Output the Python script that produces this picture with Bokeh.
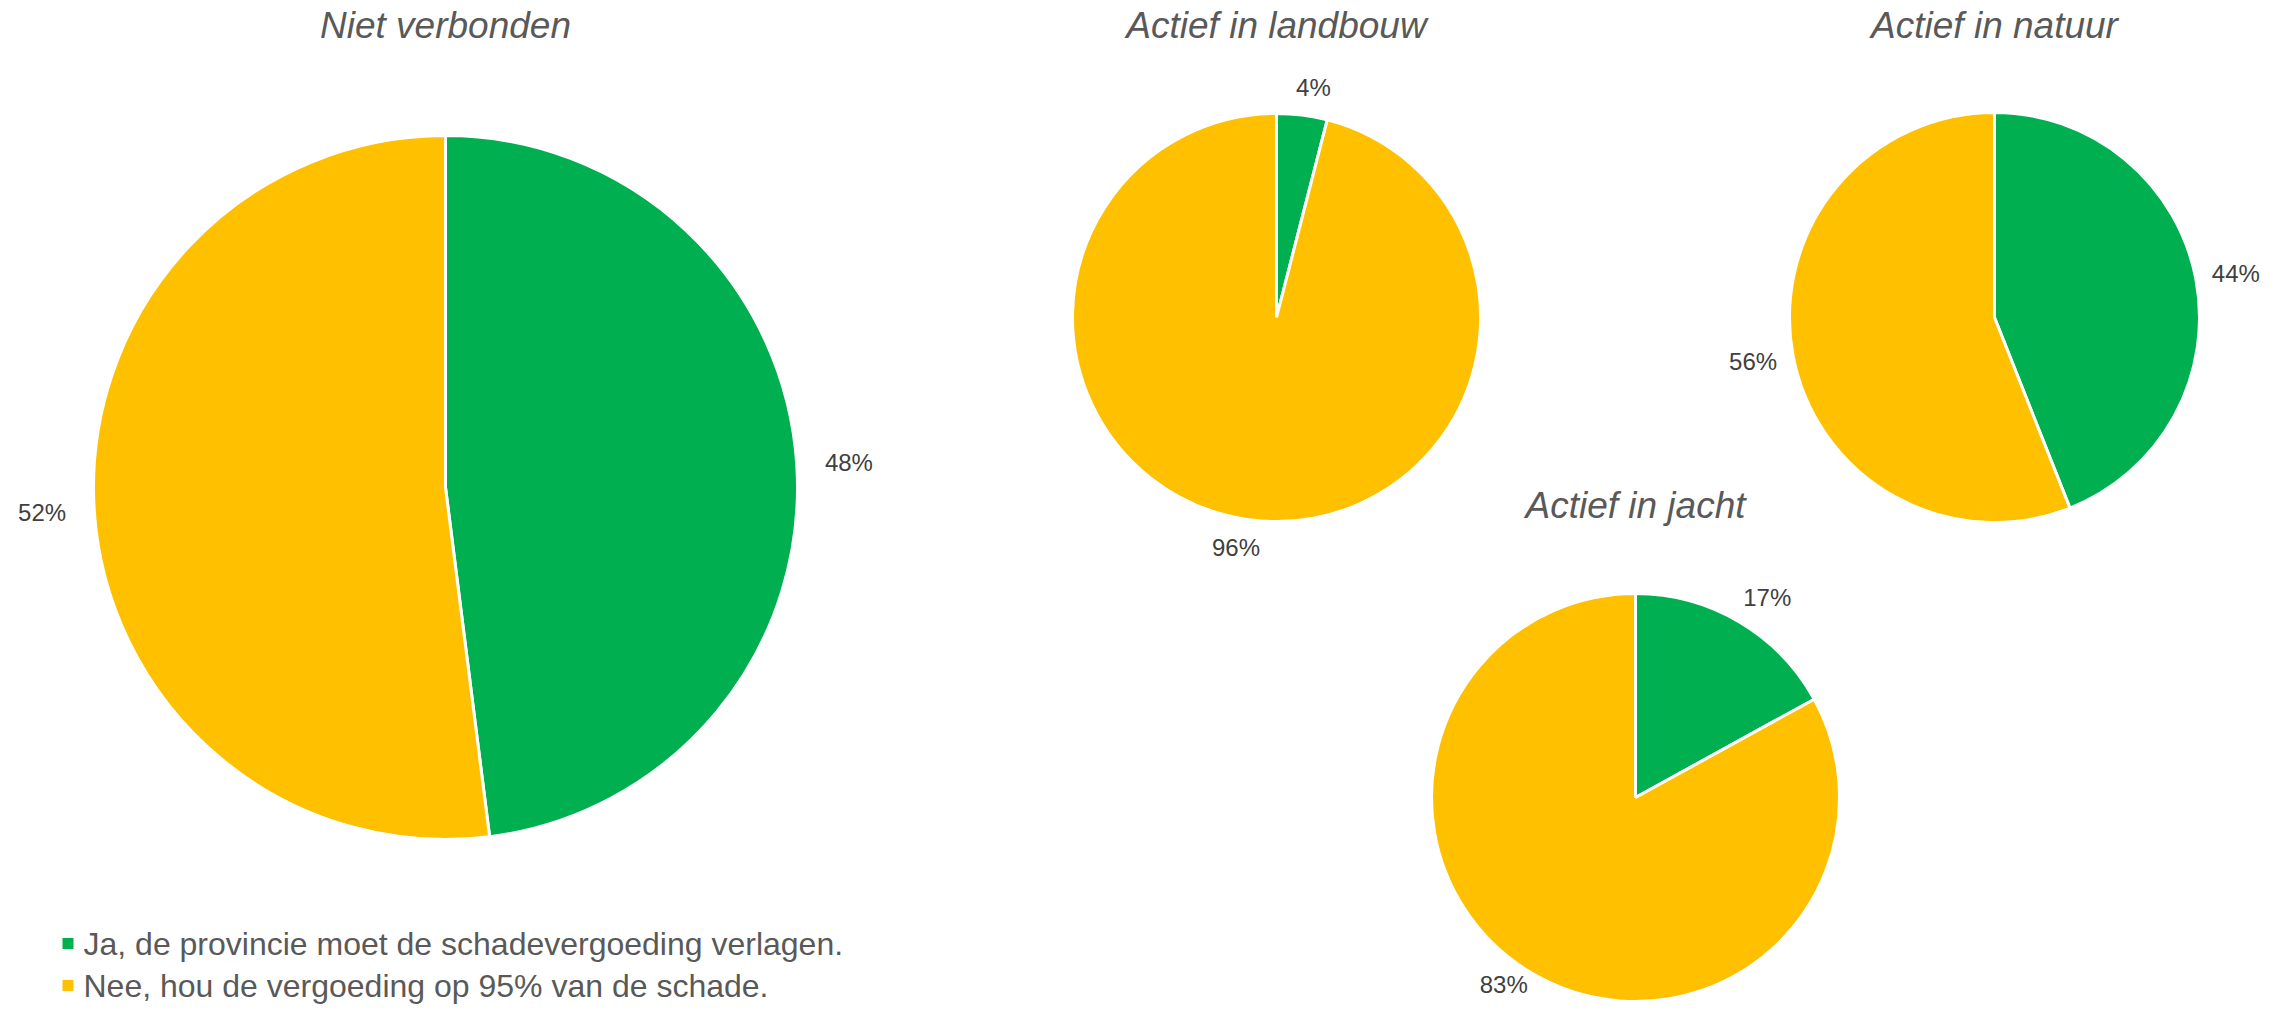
import math
from bokeh.plotting import figure
from bokeh.models import Range1d, ColumnDataSource
from bokeh.core.properties import value
from bokeh.embed import file_html
from bokeh.resources import INLINE

# ---- data ----
groups = ["Niet verbonden", "Actief in landbouw", "Actief in natuur", "Actief in jacht"]
ja_values = [48, 4, 44, 17]
nee_values = [52, 96, 56, 83]
categories = ["Ja, de provincie moet de schadevergoeding verlagen.",
              "Nee, hou de vergoeding op 95% van de schade."]
colors = ["#00B050", "#FFC000"]

# ---- layout (reference pixel coordinates: x right, y down) ----
W, H = 2281, 1020
FW, FH = W - 16, H - 16
centers = [(445, 487, 352), (1276, 317, 204), (1994, 317, 205), (1635, 797, 204)]
title_mid = [24.5, 24.5, 24.5, 505]
legend_mid = [943, 985]
FONT = "Liberation Sans"
LABEL_SIZE = 24

def Y(ref_y):
    return FH - ref_y

p = figure(width=FW, height=FH, output_backend="svg", toolbar_location=None,
           x_range=Range1d(0, FW), y_range=Range1d(0, FH),
           min_border=0, outline_line_color=None)
p.axis.visible = False
p.grid.visible = False
p.background_fill_color = "white"
p.border_fill_color = "white"

wx, wy, wr, ws, we, wc = [], [], [], [], [], []
lx, ly, lt = [], [], []
for g, ja, nee, (cx, cy, r) in zip(groups, ja_values, nee_values, centers):
    vals = [ja, nee]
    total = float(sum(vals))
    start = 0.0
    for v, col in zip(vals, colors):
        frac = v / total
        a0 = math.pi / 2 - 2 * math.pi * start
        a1 = math.pi / 2 - 2 * math.pi * (start + frac)
        wx.append(cx); wy.append(Y(cy)); wr.append(r)
        ws.append(a0); we.append(a1); wc.append(col)
        # label position: outside the slice, along the mid angle
        mid = 2 * math.pi * (start + frac / 2)  # clockwise from top
        ux, uy = math.sin(mid), -math.cos(mid)  # ref coords (y down)
        txt = f"{v}%"
        tw = (0.556 * (len(txt) - 1) + 0.889) * LABEL_SIZE
        th = LABEL_SIZE
        gap = 0.08 * r
        sx = math.copysign(abs(ux) ** 0.3, ux)
        px = cx + ux * (r + gap) + sx * tw / 2
        py = cy + uy * (r + gap) + uy * th / 2
        py = min(py, FH - 20)
        lx.append(px); ly.append(Y(py)); lt.append(txt)
        start += frac

p.wedge(x="x", y="y", radius="r", radius_units="screen", start_angle="s", end_angle="e",
        direction="clock", fill_color="c", line_color="white", line_width=3,
        source=ColumnDataSource(dict(x=wx, y=wy, r=wr, s=ws, e=we, c=wc)))

p.text(x=lx, y=ly, text=lt, text_font=value(FONT), text_font_size=f"{LABEL_SIZE}px",
       text_color="#404040", text_align="center", text_baseline="middle")

# titles
p.text(x=[c[0] for c in centers], y=[Y(m) for m in title_mid], text=groups,
       text_font=value(FONT), text_font_size="37px", text_font_style="italic",
       text_color="#595959", text_align="center", text_baseline="middle")

# legend
p.scatter(x=[67.5] * len(categories), y=[Y(m) for m in legend_mid], marker="square", size=11,
          fill_color=colors, line_color=None)
p.text(x=[83] * len(categories), y=[Y(m) for m in legend_mid], text=categories,
       text_font=value(FONT), text_font_size="32px", text_color="#595959",
       text_align="left", text_baseline="middle")

open("out.html", "w").write(file_html(p, INLINE))
